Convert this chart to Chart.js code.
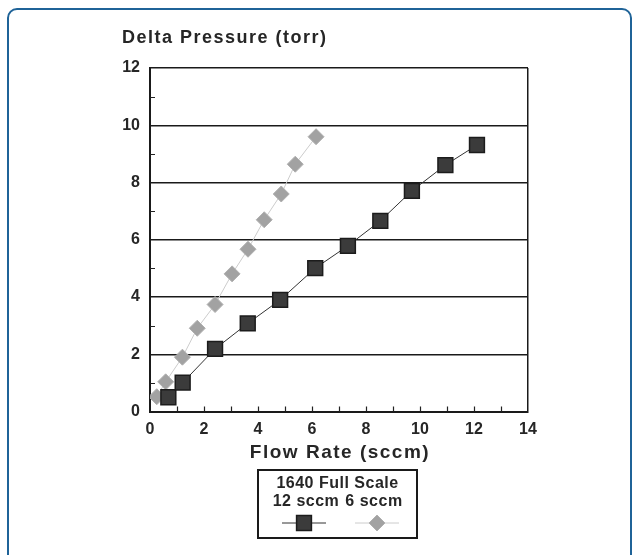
<!DOCTYPE html>
<html>
<head>
<meta charset="utf-8">
<script src="https://cdn.jsdelivr.net/npm/chart.js@4.4.1/dist/chart.umd.min.js"></script>
<style>
  body { margin: 0; background: #fff; }
  #wrap { position: relative; width: 632px; height: 555px; overflow: hidden; }
  #frame { position: absolute; left: 7px; top: 8px; width: 621px; height: 580px;
           border: 2px solid #1f6398; border-radius: 10px; }
  #wrap canvas { position: absolute; left: 0; top: 0; }
</style>
</head>
<body>
<div id="wrap">
  <div id="frame"></div>
  <canvas id="myChart" width="632" height="555"></canvas>
</div>
<script>
// 1640 flow meter, pressure drop vs flow
const seriesNames = ['12 sccm', '6 sccm'];
const legendTitle = '1640 Full Scale';
const yTitle = 'Delta Pressure (torr)';
const xTitle = 'Flow Rate (sccm)';

// 12 sccm full scale (black squares)
const flow12 = [0.68, 1.21, 2.41, 3.62, 4.82, 6.12, 7.33, 8.53, 9.70, 10.94, 12.11];
const dp12   = [0.50, 1.01, 2.19, 3.08, 3.90, 5.01, 5.79, 6.66, 7.71, 8.61, 9.31];

// 6 sccm full scale (grey diamonds)
const flow6 = [0.25, 0.58, 1.20, 1.75, 2.41, 3.04, 3.63, 4.23, 4.86, 5.38, 6.15];
const dp6   = [0.52, 1.04, 1.90, 2.91, 3.74, 4.81, 5.67, 6.70, 7.60, 8.64, 9.60];

const xMin = 0, xMax = 14, xStep = 2;
const yMin = 0, yMax = 12, yStep = 2;

const textColor = '#262626';
const FONT = '"Liberation Sans", Arial, sans-serif';

function toPoints(xs, ys) {
  return xs.map((x, i) => ({x: x, y: ys[i]}));
}

// titles, small inner ticks and the boxed legend
const extras = {
  id: 'extras',
  afterDraw(chart) {
    const ctx = chart.ctx;
    const a = chart.chartArea;
    const sx = chart.scales.x, sy = chart.scales.y;
    ctx.save();

    // minor tick marks inside the plot
    ctx.strokeStyle = '#222';
    ctx.lineWidth = 1.2;
    ctx.beginPath();
    for (let v = yMin + 1; v < yMax; v += 2) {
      const py = Math.round(sy.getPixelForValue(v)) + 0.5;
      ctx.moveTo(a.left, py); ctx.lineTo(a.left + 5, py);
    }
    for (let v = xMin + 1; v < xMax; v++) {
      const px = Math.round(sx.getPixelForValue(v)) + 0.5;
      ctx.moveTo(px, a.bottom); ctx.lineTo(px, a.bottom - 5);
    }
    ctx.stroke();

    ctx.fillStyle = textColor;
    ctx.letterSpacing = '1.5px';
    ctx.font = 'bold 18px ' + FONT;
    ctx.textAlign = 'left';
    ctx.textBaseline = 'middle';
    ctx.fillText(yTitle, a.left - 28, 38);

    ctx.font = 'bold 19px ' + FONT;
    ctx.textAlign = 'center';
    ctx.fillText(xTitle, (a.left + a.right) / 2 + 1, 453);

    // legend box
    const bx = 258, by = 470, bw = 159, bh = 68;
    ctx.letterSpacing = '0.5px';
    ctx.lineWidth = 2;
    ctx.strokeStyle = '#1a1a1a';
    ctx.strokeRect(bx, by, bw, bh);
    ctx.font = 'bold 16px ' + FONT;
    ctx.fillText(legendTitle, bx + bw / 2, 484);
    const mx = [304, 377];
    chart.data.datasets.forEach((ds, i) => {
      ctx.fillStyle = textColor;
      ctx.fillText(ds.label, mx[i] + (i === 0 ? 2 : -3), 502);
      const my = 523;
      ctx.strokeStyle = ds.borderColor;
      ctx.lineWidth = 1;
      ctx.beginPath();
      ctx.moveTo(mx[i] - 22, my); ctx.lineTo(mx[i] + 22, my);
      ctx.stroke();
      ctx.fillStyle = ds.pointBackgroundColor;
      ctx.strokeStyle = ds.pointBorderColor;
      ctx.lineWidth = ds.pointBorderWidth;
      Chart.helpers.drawPoint(ctx, {
        pointStyle: ds.pointStyle, radius: ds.pointRadius,
        borderWidth: ds.pointBorderWidth, rotation: 0
      }, mx[i], my);
    });
    ctx.restore();
  }
};

const ctx = document.getElementById('myChart').getContext('2d');
const myChart = new Chart(ctx, {
  type: 'scatter',
  data: {
    datasets: [
      {
        label: seriesNames[0],
        data: toPoints(flow12, dp12),
        showLine: true,
        borderColor: '#333333',
        borderWidth: 1,
        pointStyle: 'rect',
        pointRadius: 10.5,
        pointBackgroundColor: '#3b3b3b',
        pointBorderColor: '#1c1c1c',
        pointBorderWidth: 1.5
      },
      {
        label: seriesNames[1],
        data: toPoints(flow6, dp6),
        showLine: true,
        borderColor: '#cccccc',
        borderWidth: 1,
        pointStyle: 'rectRot',
        pointRadius: 8,
        pointBackgroundColor: '#a2a2a2',
        pointBorderColor: '#b0b0b0',
        pointBorderWidth: 1
      }
    ]
  },
  options: {
    responsive: false,
    animation: false,
    layout: { padding: { left: 0, top: 68, right: 104, bottom: 113 } },
    plugins: {
      legend: { display: false },
      tooltip: { enabled: false }
    },
    scales: {
      x: {
        type: 'linear',
        min: xMin, max: xMax,
        afterFit(scale) { scale.height = 30.4; },
        ticks: {
          stepSize: xStep,
          padding: 8,
          color: textColor,
          font: { family: FONT, size: 16, weight: 'bold' }
        },
        grid: {
          drawTicks: false,
          lineWidth: 1.5,
          color: c => (c.tick && c.tick.value === xMax) ? '#1a1a1a' : 'rgba(0,0,0,0)'
        },
        border: { display: true, color: '#1a1a1a', width: 2 }
      },
      y: {
        type: 'linear',
        min: yMin, max: yMax,
        afterFit(scale) { scale.width = 150; },
        ticks: {
          stepSize: yStep,
          padding: 10,
          color: textColor,
          font: { family: FONT, size: 16, weight: 'bold' }
        },
        grid: {
          drawTicks: false,
          lineWidth: 1.5,
          color: '#1a1a1a'
        },
        border: { display: true, color: '#1a1a1a', width: 2 }
      }
    }
  },
  plugins: [extras]
});
</script>
</body>
</html>
